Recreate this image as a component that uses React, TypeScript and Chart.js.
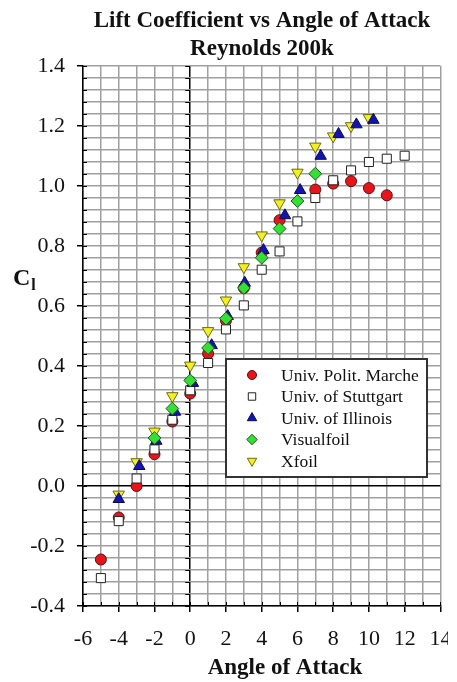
import React, { useEffect, useRef } from 'react';
import { Chart, registerables } from 'chart.js';
import { drawPoint } from 'chart.js/helpers';

Chart.register(...registerables);

const W = 448;
const H = 682;

// ---------- data ----------
const titleLines = ['Lift Coefficient vs Angle of Attack', 'Reynolds 200k'];
const xAxisTitle = 'Angle of Attack';
const yAxisTitle = 'C';
const yAxisSub = 'l';

const seriesNames = ['Univ. Polit. Marche', 'Univ. of Stuttgart', 'Univ. of Illinois', 'Visualfoil', 'Xfoil'];

const marcheAoA = [-5, -4, -3, -2, -1, 0, 1, 2, 3, 4, 5, 7, 8, 9, 10, 11];
const marcheCl = [-0.245, -0.105, 0.0, 0.106, 0.215, 0.308, 0.441, 0.552, 0.66, 0.778, 0.886, 0.988, 1.008, 1.016, 0.993, 0.969];

const stuttgartAoA = [-5, -4, -3, -2, -1, 0, 1, 2, 3, 4, 5, 6, 7, 8, 9, 10, 11, 12];
const stuttgartCl = [-0.307, -0.117, 0.025, 0.122, 0.221, 0.319, 0.41, 0.522, 0.602, 0.721, 0.782, 0.882, 0.96, 1.019, 1.052, 1.08, 1.091, 1.101];

const illinoisAoA = [-4, -2.85, -1.9, -0.85, 0.15, 1.2, 2.1, 3.05, 4.1, 5.3, 6.15, 7.3, 8.3, 9.3, 10.25];
const illinoisCl = [-0.044, 0.066, 0.15, 0.247, 0.343, 0.469, 0.566, 0.677, 0.786, 0.902, 0.986, 1.1, 1.173, 1.205, 1.22];

const visualAoA = [-2, -1, 0, 1, 2, 3, 4, 5, 6, 7];
const visualCl = [0.16, 0.258, 0.352, 0.46, 0.558, 0.66, 0.761, 0.858, 0.95, 1.041];

const xfoilAoA = [-4, -3, -2, -1, 0, 1, 2, 3, 4, 5, 6, 7, 8, 9, 10];
const xfoilCl = [-0.028, 0.08, 0.182, 0.3, 0.402, 0.517, 0.619, 0.73, 0.836, 0.943, 1.045, 1.132, 1.166, 1.2, 1.227];

const xTickMin = -6;
const xTickMax = 14;
const xStep = 1;
const yTickMin = -0.4;
const yTickMax = 1.4;
const yStep = 0.04;

// ---------- styles ----------
const SERIF = '"Liberation Serif", "Times New Roman", serif';
const GRID = '#a0a0a0';
const styles = [
  { pointStyle: 'circle', radius: 5.5, rotation: 0, bg: '#e8141c', border: '#5a1010', order: 4 },
  { pointStyle: 'rect', radius: 6.4, rotation: 0, bg: '#ffffff', border: '#222222', order: 3 },
  { pointStyle: 'triangle', radius: 6.6, rotation: 0, bg: '#1414b4', border: '#0a0a50', order: 1 },
  { pointStyle: 'rectRot', radius: 6.4, rotation: 0, bg: '#33e033', border: '#1a5a1a', order: 0 },
  { pointStyle: 'triangle', radius: 6.6, rotation: 180, bg: '#f4f020', border: '#6a6a10', order: 2 },
];

const toPts = (xs: number[], ys: number[]) => xs.map((x, i) => ({ x, y: ys[i] }));

const isMajorY = (v: number) => Math.round(v * 100) % 20 === 0;
const isMajorX = (v: number) => Math.round(v) % 2 === 0;

const decorPlugin = {
  id: 'decor',
  beforeDatasetsDraw(chart: any) {
    const { ctx, scales } = chart;
    const xs = scales.x;
    const ys = scales.y;
    const x0 = xs.getPixelForValue(0);
    const left = chart.chartArea.left;
    const bottom = chart.chartArea.bottom;
    ctx.save();
    ctx.strokeStyle = '#000';
    ctx.lineWidth = 1;
    ctx.beginPath();
    ys.ticks.forEach((t: any) => {
      const py = Math.round(ys.getPixelForValue(t.value)) + 0.5;
      ctx.moveTo(left, py);
      ctx.lineTo(left + 4, py);
      ctx.moveTo(x0 - 5, py);
      ctx.lineTo(x0, py);
    });
    xs.ticks.forEach((t: any) => {
      const px = Math.round(xs.getPixelForValue(t.value)) + 0.5;
      ctx.moveTo(px, bottom);
      ctx.lineTo(px, bottom - 4);
    });
    ctx.stroke();
    ctx.restore();
  },
  afterDatasetsDraw(chart: any) {
    const { ctx } = chart;
    ctx.save();
    // legend box
    const bx = 226, by = 359, bw = 201, bh = 118;
    ctx.fillStyle = '#ffffff';
    ctx.fillRect(bx, by, bw, bh);
    ctx.strokeStyle = '#333333';
    ctx.lineWidth = 2;
    ctx.strokeRect(bx, by, bw, bh);
    seriesNames.forEach((name, i) => {
      const s = styles[i];
      const y = by + 16 + i * 21.5;
      ctx.fillStyle = s.bg;
      ctx.strokeStyle = s.border;
      ctx.lineWidth = 1;
      drawPoint(ctx, { pointStyle: s.pointStyle, radius: s.radius * 0.82, rotation: s.rotation, borderWidth: 1 }, bx + 26, y);
      ctx.fillStyle = '#111';
      ctx.font = `17.5px ${SERIF}`;
      ctx.textAlign = 'left';
      ctx.textBaseline = 'middle';
      ctx.fillText(name, bx + 55, y + 1);
    });
    ctx.restore();
  },
  afterDraw(chart: any) {
    const { ctx } = chart;
    ctx.save();
    ctx.fillStyle = '#111';
    ctx.textBaseline = 'alphabetic';
    ctx.textAlign = 'center';
    ctx.font = `bold 23px ${SERIF}`;
    ctx.fillText(titleLines[0], 262, 27);
    ctx.fillText(titleLines[1], 262, 55);
    ctx.fillText(xAxisTitle, 285, 674);
    ctx.textAlign = 'left';
    ctx.font = `bold 24px ${SERIF}`;
    ctx.fillText(yAxisTitle, 13, 285);
    const cw = ctx.measureText(yAxisTitle).width;
    ctx.font = `bold 16px ${SERIF}`;
    ctx.fillText(yAxisSub, 13 + cw + 1, 290);
    ctx.restore();
  },
};

export default function App() {
  const ref = useRef<HTMLCanvasElement>(null);
  useEffect(() => {
    if (!ref.current) return;
    const datasets = [
      toPts(marcheAoA, marcheCl),
      toPts(stuttgartAoA, stuttgartCl),
      toPts(illinoisAoA, illinoisCl),
      toPts(visualAoA, visualCl),
      toPts(xfoilAoA, xfoilCl),
    ].map((data, i) => ({
      label: seriesNames[i],
      data,
      showLine: false,
      order: styles[i].order,
      pointStyle: styles[i].pointStyle,
      pointRadius: styles[i].radius,
      pointRotation: styles[i].rotation,
      pointBackgroundColor: styles[i].bg,
      pointBorderColor: styles[i].border,
      pointBorderWidth: 1,
    }));
    const chart = new Chart(ref.current, {
      type: 'scatter',
      data: { datasets },
      plugins: [decorPlugin],
      options: {
        responsive: false,
        animation: false,
        devicePixelRatio: 1,
        layout: { padding: { top: 66, left: 0, right: W - 446, bottom: 0 } },
        plugins: { legend: { display: false }, title: { display: false }, tooltip: { enabled: false } },
        scales: {
          x: {
            type: 'linear',
            min: xTickMin,
            max: xTickMax,
            ticks: {
              stepSize: xStep,
              autoSkip: false,
              maxRotation: 0,
              padding: 14,
              color: '#111',
              font: { family: SERIF, size: 22 },
              callback: (v: any) => (isMajorX(Number(v)) ? String(Math.round(Number(v))) : ''),
            },
            grid: {
              color: (c: any) => (c.tick && Math.abs(c.tick.value) < 1e-9 ? '#000000' : GRID),
              lineWidth: 1.5,
              tickLength: 6,
              tickColor: (c: any) => (c.tick && isMajorX(c.tick.value) ? '#000000' : 'rgba(0,0,0,0)'),
            },
            border: { color: '#000000', width: 1.5 },
            afterFit: (s: any) => {
              s.height = H - 606;
              s.paddingLeft = 0;
              s.paddingRight = 0;
            },
          },
          y: {
            type: 'linear',
            min: yTickMin,
            max: yTickMax,
            ticks: {
              stepSize: yStep,
              autoSkip: false,
              padding: 12,
              color: '#111',
              font: { family: SERIF, size: 22 },
              callback: (v: any) => {
                const n = Number(v);
                return isMajorY(n) ? (Math.round(n * 10) / 10 + 0).toFixed(1) : '';
              },
            },
            grid: {
              color: (c: any) => (c.tick && Math.abs(c.tick.value) < 1e-9 ? '#000000' : GRID),
              lineWidth: 1.5,
              tickLength: 6,
              tickColor: (c: any) => (c.tick && isMajorY(c.tick.value) ? '#000000' : 'rgba(0,0,0,0)'),
            },
            border: { color: '#000000', width: 1.5 },
            afterFit: (s: any) => {
              s.width = 83;
              s.paddingTop = 0;
              s.paddingBottom = 0;
            },
          },
        },
      } as any,
    });
    return () => chart.destroy();
  }, []);
  return (
    <div style={{ position: 'fixed', left: 0, top: 0, width: W, height: H, background: '#fff' }}>
      <canvas ref={ref} width={W} height={H} style={{ display: 'block' }} />
    </div>
  );
}
